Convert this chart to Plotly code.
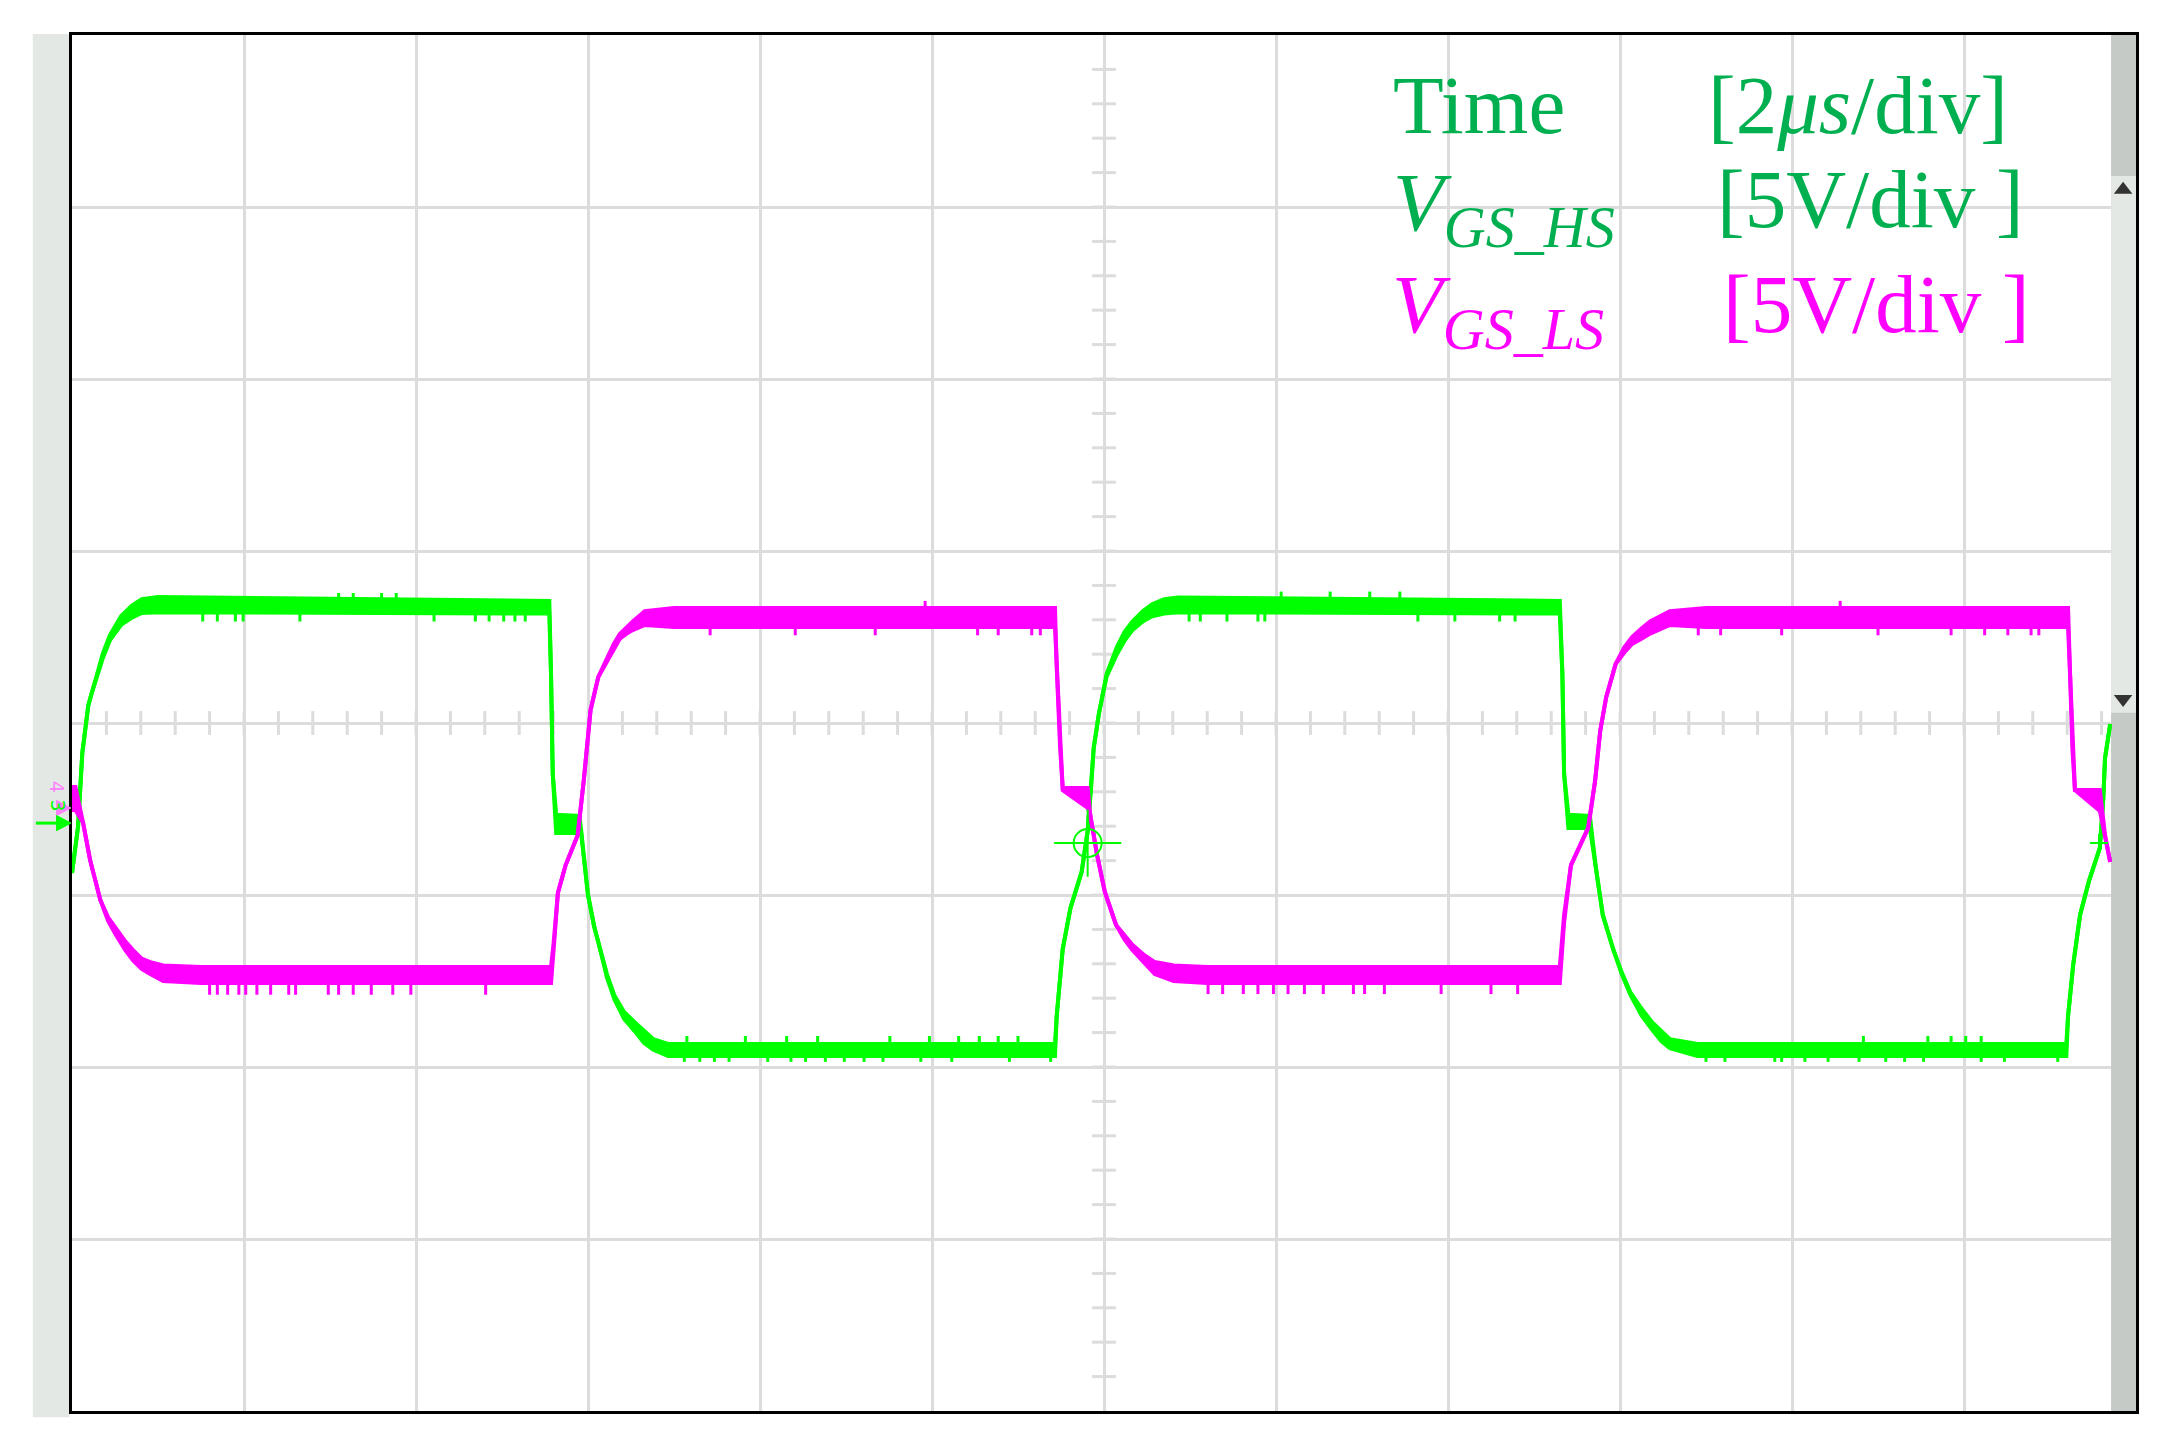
import numpy as np
import plotly.graph_objects as go

# scope screen colours
GRN = "#00FF00"
MAG = "#FF00FF"
MAG_LT = "#FF80FF"
TXT_GRN = "#00B050"
GRID = "#DCDCDC"
STRIP = "#E4E8E4"
STRIP_DK = "#C6CAC6"

# V_GS_HS (ch3): peak-detect envelope, t in us, v in screen volts (0 = centre)
t_hs = [0.00, 0.07, 0.12, 0.19, 0.23, 0.27, 0.36, 0.44, 0.57, 0.69, 0.81, 1.00,
        5.55, 5.57, 5.59, 5.63, 5.90, 5.92, 6.00, 6.07, 6.14, 6.22, 6.31, 6.42, 6.54, 6.65, 6.76, 6.93,
        11.43, 11.45, 11.52, 11.61, 11.74, 11.81, 11.85, 11.88, 11.94, 12.03, 12.15, 12.24, 12.33,
        12.45, 12.56, 12.70, 12.86,
        17.30, 17.33, 17.35, 17.40, 17.65, 17.72, 17.80, 17.92, 18.02, 18.12, 18.25, 18.37, 18.48,
        18.58, 18.90,
        23.19, 23.21, 23.27, 23.35, 23.45, 23.58, 23.62, 23.64, 23.70]
hs_hi = [-4.36, -3.02, -0.87, 0.52, 0.87, 1.25, 2.03, 2.55, 3.10, 3.40, 3.60, 3.66,
         3.55, 1.42, -1.48, -2.67, -2.70, -3.11, -5.00, -5.90, -6.57, -7.30, -7.94, -8.40, -8.69,
         -8.95, -9.19, -9.33,
         -9.33, -8.52, -6.57, -5.38, -4.33, -3.14, -1.89, -0.73, 0.26, 1.42, 2.21, 2.65, 2.95,
         3.25, 3.45, 3.60, 3.65,
         3.55, 1.42, -1.48, -2.67, -2.70, -4.22, -5.58, -6.57, -7.25, -7.82, -8.30, -8.69, -8.95,
         -9.19, -9.33,
         -9.33, -8.52, -7.03, -5.58, -4.62, -3.63, -2.18, -1.02, -0.03]
hs_lo = [-4.36, -3.02, -0.87, 0.52, 0.87, 1.20, 1.90, 2.40, 2.85, 3.05, 3.20, 3.22,
         3.18, 1.42, -1.48, -3.20, -3.20, -3.20, -5.00, -5.90, -6.57, -7.40, -8.05, -8.60, -8.95,
         -9.30, -9.50, -9.68,
         -9.68, -8.52, -6.57, -5.38, -4.33, -3.14, -1.89, -0.73, 0.26, 1.35, 2.00, 2.40, 2.70,
         2.95, 3.10, 3.18, 3.22,
         3.18, 1.42, -1.48, -3.05, -3.05, -4.22, -5.58, -6.57, -7.30, -7.90, -8.50, -8.90, -9.25,
         -9.45, -9.68,
         -9.68, -8.52, -7.03, -5.58, -4.62, -3.63, -2.18, -1.02, -0.03]

# V_GS_LS (ch4)
t_ls = [0.00, 0.04, 0.13, 0.21, 0.33, 0.42, 0.52, 0.62, 0.71, 0.81, 0.91, 1.06, 1.50,
        5.57, 5.60, 5.65, 5.74, 5.88, 5.95, 6.03, 6.12, 6.23, 6.30, 6.37, 6.45, 6.52, 6.66, 7.00,
        11.43, 11.45, 11.49, 11.52, 11.81, 11.84, 11.92, 12.01, 12.14, 12.24, 12.33, 12.47, 12.59,
        12.81, 13.20,
        17.30, 17.35, 17.43, 17.63, 17.71, 17.77, 17.84, 17.95, 18.05, 18.14, 18.25, 18.35, 18.58,
        19.00,
        23.21, 23.23, 23.26, 23.29, 23.58, 23.64, 23.70]
ls_hi = [-1.86, -1.86, -2.91, -3.98, -5.15, -5.65, -6.00, -6.35, -6.60, -6.85, -6.95, -7.05, -7.09,
         -7.09, -6.40, -4.94, -4.13, -3.26, -1.69, 0.38, 1.34, 1.92, 2.30, 2.59, 2.80, 2.95, 3.25, 3.34,
         3.34, 1.63, -0.73, -1.89, -1.89, -2.67, -3.84, -4.91, -5.87, -6.20, -6.45, -6.75, -6.95,
         -7.05, -7.09,
         -7.09, -5.58, -4.13, -3.05, -1.69, -0.23, 0.76, 1.72, 2.20, 2.50, 2.75, 2.95, 3.25,
         3.34,
         3.34, 1.63, -0.73, -1.95, -1.95, -3.26, -4.04]
ls_lo = [-2.53, -2.53, -2.91, -3.98, -5.15, -5.75, -6.20, -6.60, -6.90, -7.15, -7.30, -7.50, -7.56,
         -7.56, -6.60, -4.94, -4.13, -3.26, -1.69, 0.38, 1.34, 1.85, 2.15, 2.45, 2.60, 2.70, 2.85, 2.79,
         2.79, 1.63, -0.73, -1.95, -2.47, -2.67, -3.84, -4.91, -5.87, -6.30, -6.60, -7.00, -7.30,
         -7.50, -7.56,
         -7.56, -5.80, -4.13, -3.05, -1.69, -0.23, 0.76, 1.72, 2.05, 2.30, 2.45, 2.60, 2.85,
         2.79,
         2.79, 1.63, -0.73, -1.95, -2.56, -3.26, -4.04]

# noise spikes on the flat tops (time, tip level)
hs_spk_t = [1.52, 1.69, 1.90, 1.99, 2.65, 4.21, 4.69, 4.85, 5.02, 5.15, 5.27,
            3.10, 3.27, 3.60, 3.77,
            7.15, 7.83, 8.31, 8.67, 9.51, 9.97, 10.31, 10.55, 10.77, 11.00,
            7.12, 7.30, 7.47, 7.64, 8.09, 8.36, 8.53, 8.76, 8.98, 9.21, 9.43, 9.87, 10.23, 10.90, 11.38,
            12.99, 13.12, 13.43, 13.79, 13.87, 15.65, 16.08, 16.60, 16.78,
            14.06, 14.63, 15.09, 15.44,
            20.83, 21.58, 21.85, 22.02, 22.20,
            19.00, 19.22, 19.80, 19.88, 20.15, 20.42, 20.78, 21.09, 21.31, 21.53, 22.20, 22.47, 23.09]
hs_spk_v = [2.95] * 11 + [3.78] * 4 + [-9.10] * 10 + [-9.85] * 15 + [2.95] * 9 + [3.82] * 4 \
    + [-9.10] * 5 + [-9.85] * 13
ls_spk_t = [1.60, 1.69, 1.81, 1.94, 2.02, 2.15, 2.31, 2.52, 2.60, 2.98, 3.10, 3.27, 3.48, 3.73, 3.94, 4.81,
            7.42, 8.41, 9.34, 10.53, 10.77, 11.16, 11.26,
            9.92,
            13.21, 13.38, 13.62, 13.79, 13.97, 14.14, 14.33, 14.55, 14.90, 15.03, 15.26, 15.92, 16.50, 16.81,
            18.91, 19.17, 19.88, 21.00, 21.85, 22.24, 22.51, 22.78, 22.87,
            20.56]
ls_spk_v = [-7.90] * 16 + [2.55] * 7 + [3.55] + [-7.88] * 14 + [2.55] * 9 + [3.55]

# trigger marker (t, v) and channel ground levels
trig_t, trig_v = 11.81, -3.49
trig_lvl_t = 23.57
gnd_ls, gnd_hs = -2.47, -2.91

T_DIV, V_DIV = 2, 5
N_TDIV, N_VDIV = 12, 8

fig = go.Figure()

# graticule ticks on the centre lines (5 per division)
cx = [i * T_DIV / 5 for i in range(1, N_TDIV * 5)]
cy = [i * V_DIV / 5 for i in range(-N_VDIV * 5 // 2 + 1, N_VDIV * 5 // 2)]
fig.add_trace(go.Scatter(x=cx, y=[0] * len(cx), mode="markers", hoverinfo="skip",
    marker=dict(symbol="line-ns-open", size=17, color=GRID, line=dict(color=GRID, width=3))))
fig.add_trace(go.Scatter(x=[T_DIV * N_TDIV / 2] * len(cy), y=cy, mode="markers", hoverinfo="skip",
    marker=dict(symbol="line-ew-open", size=17, color=GRID, line=dict(color=GRID, width=3))))


def add_env(t, lo, hi, spk_t, spk_v, color, name):
    fig.add_trace(go.Scatter(x=t, y=lo, mode="lines", line=dict(color=color, width=4),
                             name=name, hoverinfo="skip"))
    fig.add_trace(go.Scatter(x=t, y=hi, mode="lines", line=dict(color=color, width=4),
                             fill="tonexty", fillcolor=color, name=name))
    mid = np.interp(spk_t, t, (np.array(hi) + np.array(lo)) / 2)
    xs, ys = [], []
    for ts, b, v in zip(spk_t, mid, spk_v):
        xs += [ts, ts, None]
        ys += [b, v, None]
    fig.add_trace(go.Scatter(x=xs, y=ys, mode="lines", line=dict(color=color, width=3),
                             hoverinfo="skip", name=name))


add_env(t_hs, hs_lo, hs_hi, hs_spk_t, hs_spk_v, GRN, "V_GS_HS")
add_env(t_ls, ls_lo, ls_hi, ls_spk_t, ls_spk_v, MAG, "V_GS_LS")

# trigger crosshair
fig.add_trace(go.Scatter(x=[trig_t], y=[trig_v], mode="markers", hoverinfo="skip",
    marker=dict(symbol="circle-open", size=28, color=GRN, line=dict(color=GRN, width=2))))
fig.add_trace(go.Scatter(x=[trig_t], y=[trig_v], mode="markers", hoverinfo="skip",
    marker=dict(symbol="cross-thin-open", size=48, color=GRN, line=dict(color=GRN, width=2))))
fig.add_trace(go.Scatter(x=[trig_lvl_t], y=[trig_v], mode="markers", hoverinfo="skip",
    marker=dict(symbol="cross-thin-open", size=13, color=GRN, line=dict(color=GRN, width=2))))

# right-hand level strip with its two pointers
x_strip = 23.71
fig.add_shape(type="rect", xref="x", yref="y", x0=x_strip, x1=24, y0=-20, y1=20,
              fillcolor=STRIP_DK, line_width=0, layer="between")
fig.add_shape(type="rect", xref="x", yref="y", x0=x_strip, x1=24, y0=0.3, y1=15.9,
              fillcolor=STRIP, line_width=0, layer="between")
fig.add_trace(go.Scatter(x=[23.85, 23.85], y=[15.5, 0.7], mode="markers", hoverinfo="skip",
    marker=dict(symbol=["triangle-up", "triangle-down"], size=16, color="#333333")))

# left strip + channel ground markers (arrow heads drawn as paper-x paths)
fig.add_shape(type="rect", xref="paper", yref="paper", x0=-0.019, x1=-0.0012, y0=-0.0045, y1=1.0007,
              fillcolor=STRIP, line_width=0, layer="below")
fig.add_shape(type="line", xref="paper", yref="y", x0=-0.0175, x1=-0.005, y0=gnd_hs, y1=gnd_hs,
              line=dict(color=GRN, width=3))
for lvl, col in [(gnd_ls, MAG_LT), (gnd_hs, GRN)]:
    fig.add_shape(type="path", xref="paper", yref="y", fillcolor=col, line=dict(color=col, width=1),
                  path=f"M -0.0005,{lvl} L -0.0075,{lvl + 0.22} L -0.0075,{lvl - 0.22} Z")
fig.add_annotation(xref="paper", x=-0.0135, y=-1.86, text="4", showarrow=False, textangle=90,
                   font=dict(size=19, color=MAG_LT, family="DejaVu Sans"))
fig.add_annotation(xref="paper", x=-0.0130, y=-2.40, text="3", showarrow=False, textangle=90,
                   font=dict(size=19, color=GRN, family="DejaVu Sans"))

# scale legend
SERIF = "Liberation Serif"
fs = 83
rows = [
    ("Time", "[2<i>μs</i>/div]", TXT_GRN, 15.34, 17.97, 19.00, 17.97),
    ("<i>V<sub>GS_HS</sub></i>", "[5V/div ]", TXT_GRN, 15.34, 14.97, 19.10, 15.22),
    ("<i>V<sub>GS_LS</sub></i>", "[5V/div ]", MAG, 15.33, 12.02, 19.18, 12.17),
]
for lab, scale, col, xl, yl, xs, ys in rows:
    fig.add_annotation(x=xl, y=yl, text=lab, showarrow=False, xanchor="left", yanchor="middle",
                       font=dict(family=SERIF, size=fs, color=col))
    fig.add_annotation(x=xs, y=ys, text=scale, showarrow=False, xanchor="left", yanchor="middle",
                       font=dict(family=SERIF, size=fs, color=col))

# page body has an 8px margin, so the figure is drawn 8px in from the window corner
fig.update_layout(
    width=2170, height=1447,
    margin=dict(l=64, r=42, t=27, b=44),
    plot_bgcolor="white", paper_bgcolor="white",
    showlegend=False,
    xaxis=dict(range=[0, T_DIV * N_TDIV], dtick=T_DIV, tick0=0, showgrid=True, gridcolor=GRID,
               gridwidth=3, zeroline=False, showticklabels=False, ticks="",
               showline=True, mirror=True, linecolor="black", linewidth=3),
    yaxis=dict(range=[-V_DIV * N_VDIV / 2, V_DIV * N_VDIV / 2], dtick=V_DIV, tick0=0, showgrid=True,
               gridcolor=GRID, gridwidth=3, zeroline=False, showticklabels=False, ticks="",
               showline=True, mirror=True, linecolor="black", linewidth=3),
)

fig.write_html("out.html")
